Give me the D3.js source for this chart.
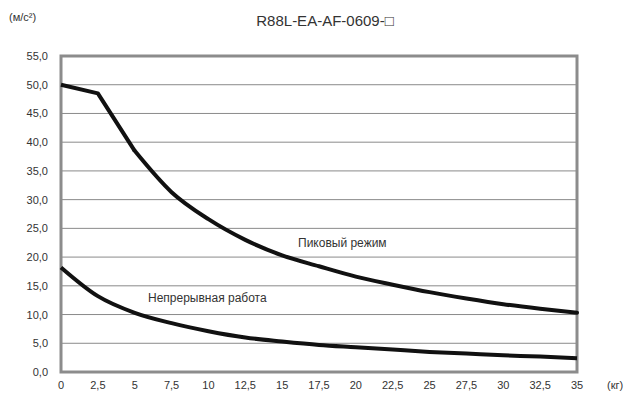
<!DOCTYPE html>
<html>
<head>
<meta charset="utf-8">
<script src="https://cdn.jsdelivr.net/npm/d3@7"></script>
<style>
  body { margin: 0; background: #fff; }
  text { font-family: "Liberation Sans", Arial, sans-serif; fill: #333; }
</style>
</head>
<body>
<div id="chart"></div>
<script>
// masses (kg)
var masses = [0, 2.5, 5, 7.5, 10, 12.5, 15, 17.5, 20, 22.5, 25, 27.5, 30, 32.5, 35];
// peak mode acceleration (m/s2)
var peakValues = [50.0, 48.5, 38.5, 31.3, 26.6, 23.0, 20.3, 18.4, 16.6, 15.2, 13.9, 12.8, 11.8, 11.0, 10.3];
// continuous operation acceleration (m/s2)
var contValues = [18.2, 13.2, 10.3, 8.5, 7.1, 6.0, 5.3, 4.7, 4.3, 3.9, 3.5, 3.2, 2.9, 2.7, 2.4];
var yTicks = [0, 5, 10, 15, 20, 25, 30, 35, 40, 45, 50, 55];

const width = 637, height = 396;
const margin = {left: 61, right: 60, top: 56, bottom: 24};

let svg = d3.select('#chart').append('svg')
    .attr('width', width)
    .attr('height', height);

let x = d3.scaleLinear().domain([0, 35]).range([margin.left, width - margin.right]);
let y = d3.scaleLinear().domain([0, 55]).range([height - margin.bottom, margin.top]);

const fmt = v => String(v).replace('.', ',');

// gridlines
svg.append('g')
    .selectAll('line')
    .data(yTicks.slice(1, -1))
    .join('line')
    .attr('x1', x(0)).attr('x2', x(35))
    .attr('y1', d => y(d)).attr('y2', d => y(d))
    .style('stroke', '#8a8a8a')
    .style('stroke-width', 1);

// frame
svg.append('rect')
    .attr('x', x(0)).attr('y', y(55))
    .attr('width', x(35) - x(0))
    .attr('height', y(0) - y(55))
    .style('fill', 'none')
    .style('stroke', '#8c8c8c')
    .style('stroke-width', 3);

// y axis labels
svg.append('g')
    .selectAll('text')
    .data(yTicks)
    .join('text')
    .attr('x', 48)
    .attr('y', d => y(d) + 4)
    .attr('text-anchor', 'end')
    .style('font-size', '11px')
    .text(d => d.toFixed(1).replace('.', ','));

// x axis labels
svg.append('g')
    .selectAll('text')
    .data(masses)
    .join('text')
    .attr('x', d => x(d))
    .attr('y', 389)
    .attr('text-anchor', 'middle')
    .style('font-size', '11px')
    .text(d => fmt(d));

// curves
let straight = d3.line()
    .x(d => x(d[0]))
    .y(d => y(d[1]))
    .curve(d3.curveLinear);

let smooth = d3.line()
    .x(d => x(d[0]))
    .y(d => y(d[1]))
    .curve(d3.curveMonotoneX);

let peakPts = d3.zip(masses, peakValues);
let contPts = d3.zip(masses, contValues);

// peak: straight segments up to 5 kg, smooth after
svg.append('path')
    .attr('d', straight(peakPts.slice(0, 3)))
    .style('fill', 'none')
    .style('stroke', '#111')
    .style('stroke-width', 4)
    .style('stroke-linejoin', 'round');

svg.append('path')
    .attr('d', smooth(peakPts.slice(2)))
    .style('fill', 'none')
    .style('stroke', '#111')
    .style('stroke-width', 4)
    .style('stroke-linecap', 'round');

svg.append('path')
    .attr('d', smooth(contPts))
    .style('fill', 'none')
    .style('stroke', '#111')
    .style('stroke-width', 4);

// series labels
svg.append('text')
    .attr('x', 298).attr('y', 247)
    .style('font-size', '12px')
    .text('Пиковый режим');

svg.append('text')
    .attr('x', 148).attr('y', 302)
    .style('font-size', '12px')
    .text('Непрерывная работа');

// title and units
svg.append('text')
    .attr('x', 325).attr('y', 26)
    .attr('text-anchor', 'middle')
    .style('font-size', '15px')
    .text('R88L-EA-AF-0609-□');

svg.append('text')
    .attr('x', 9).attr('y', 21)
    .style('font-size', '11px')
    .text('(м/с²)');

svg.append('text')
    .attr('x', 607).attr('y', 389)
    .style('font-size', '11px')
    .text('(кг)');
</script>
</body>
</html>
